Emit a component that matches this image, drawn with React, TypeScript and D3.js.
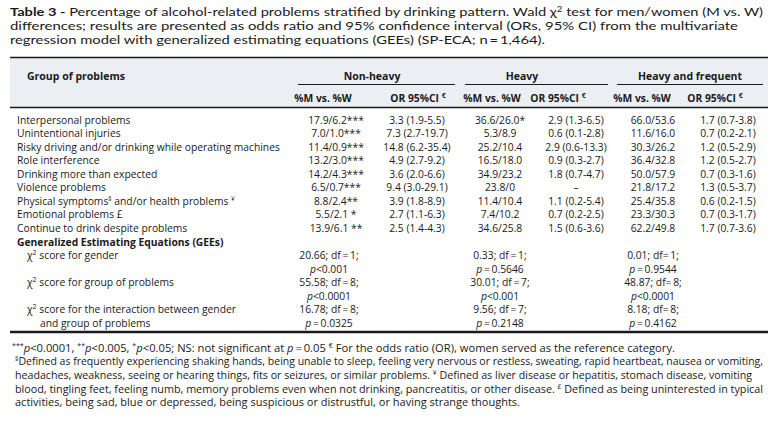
import React from "react";
import * as d3 from "d3";

// ---------- DATA ----------
const titleLines = [
  "**Table 3 -** Percentage of alcohol-related problems stratified by drinking pattern. Wald χ^2^ test for men/women (M vs. W)",
  "differences; results are presented as odds ratio and 95% confidence interval (ORs, 95% CI) from the multivariate",
  "regression model with generalized estimating equations (GEEs) (SP-ECA; n\u2009=\u20091,464).",
];

const groupHeaders = ["Non-heavy", "Heavy", "Heavy and frequent"];
const subHeaders = ["%M vs. %W", "OR 95%CI ^€^"];

const problems = [
  "Interpersonal problems",
  "Unintentional injuries",
  "Risky driving and/or drinking while operating machines",
  "Role interference",
  "Drinking more than expected",
  "Violence problems",
  "Physical symptoms^§^ and/or health problems ^¥^",
  "Emotional problems £",
  "Continue to drink despite problems",
];

const nonHeavyPct = ["17.9/6.2***", "7.0/1.0***", "11.4/0.9***", "13.2/3.0***", "14.2/4.3***", "6.5/0.7***", "8.8/2.4**", "5.5/2.1 *", "13.9/6.1 **"];
const nonHeavyOR = ["3.3 (1.9-5.5)", "7.3 (2.7-19.7)", "14.8 (6.2-35.4)", "4.9 (2.7-9.2)", "3.6 (2.0-6.6)", "9.4 (3.0-29.1)", "3.9 (1.8-8.9)", "2.7 (1.1-6.3)", "2.5 (1.4-4.3)"];
const heavyPct = ["36.6/26.0*", "5.3/8.9", "25.2/10.4", "16.5/18.0", "34.9/23.2", "23.8/0", "11.4/10.4", "7.4/10.2", "34.6/25.8"];
const heavyOR = ["2.9 (1.3-6.5)", "0.6 (0.1-2.8)", "2.9 (0.6-13.3)", "0.9 (0.3-2.7)", "1.8 (0.7-4.7)", "–", "1.1 (0.2-5.4)", "0.7 (0.2-2.5)", "1.5 (0.6-3.6)"];
const freqPct = ["66.0/53.6", "11.6/16.0", "30.3/26.2", "36.4/32.8", "50.0/57.9", "21.8/17.2", "25.4/35.8", "23.3/30.3", "62.2/49.8"];
const freqOR = ["1.7 (0.7-3.8)", "0.7 (0.2-2.1)", "1.2 (0.5-2.9)", "1.2 (0.5-2.7)", "0.7 (0.3-1.6)", "1.3 (0.5-3.7)", "0.6 (0.2-1.5)", "0.7 (0.3-1.7)", "1.7 (0.7-3.6)"];

const geeTitle = "Generalized Estimating Equations (GEEs)";
const geeLabels = [
  ["χ^2^ score for gender"],
  ["χ^2^ score for group of problems"],
  ["χ^2^ score for the interaction between gender", "and group of problems"],
];
const geeNonHeavy = [["20.66; df\u2009=\u20091;", "~p~<0.001"], ["55.58; df\u2009=\u20098;", "~p~<0.0001"], ["16.78; df\u2009=\u20098;", "~p~\u2009=\u20090.0325"]];
const geeHeavy = [["0.33; df\u2009=\u20091;", "~p~\u2009=\u20090.5646"], ["30.01; df\u2009=\u20097;", "~p~<0.001"], ["9.56; df\u2009=\u20097;", "~p~\u2009=\u20090.2148"]];
const geeFreq = [["0.01; df=\u20091;", "~p~\u2009=\u20090.9544"], ["48.87; df=\u20098;", "~p~<0.0001"], ["8.18; df=\u20098;", "~p~\u2009=\u20090.4162"]];

const footnotes = [
  "^***^~p~<0.0001, ^**^~p~<0.005, ^*^~p~<0.05; NS: not significant at ~p~\u2009=\u20090.05 ^€^ For the odds ratio (OR), women served as the reference category.",
  "^§^Defined as frequently experiencing shaking hands, being unable to sleep, feeling very nervous or restless, sweating, rapid heartbeat, nausea or vomiting,",
  "headaches, weakness, seeing or hearing things, fits or seizures, or similar problems. ^¥^ Defined as liver disease or hepatitis, stomach disease, vomiting",
  "blood, tingling feet, feeling numb, memory problems even when not drinking, pancreatitis, or other disease. ^£^ Defined as being uninterested in typical",
  "activities, being sad, blue or depressed, being suspicious or distrustful, or having strange thoughts.",
];

// ---------- LAYOUT ----------
const FONT = "'Open Sans', 'Noto Sans', sans-serif";
const TITLE_FONT = "Lato, 'Open Sans', sans-serif";
const INK = "#1a1a1a";
const titleX = [10, 10, 10];
const titleLen = [753, 728, 535];
const footX = [12, 15, 15, 15, 15];
const footLen = [663, 748, 737, 748, 505];

function rich(str: string, supSize: number) {
  const parts = str.split(/(\*\*.+?\*\*|\^.+?\^|~.+?~)/).filter((s) => s.length > 0);
  let shift = 0;
  return parts.map((p, i) => {
    let text = p;
    let weight: any = undefined;
    let style: any = undefined;
    let sup = false;
    if (p.startsWith("**") && p.endsWith("**") && p.length > 4) {
      text = p.slice(2, -2);
      weight = "bold";
    } else if (p.startsWith("^") && p.endsWith("^") && p.length > 2) {
      text = p.slice(1, -1);
      sup = true;
    } else if (p.startsWith("~") && p.endsWith("~") && p.length > 2) {
      text = p.slice(1, -1);
      style = "italic";
    }
    const target = sup ? -4 : 0;
    const dy = target - shift;
    shift = target;
    return (
      <tspan key={i} dy={dy || undefined} fontWeight={weight} fontStyle={style} fontSize={sup ? supSize : undefined}>
        {text}
      </tspan>
    );
  });
}

export default function App() {
  const W = 784;
  const H = 430;
  const left = 10;
  const right = 768;

  // line index -> y (center)
  const yLine = d3.scaleLinear().domain([0, 15]).range([120, 323.3]);
  const base = 3.6;

  const dataCols = ["nhPct", "nhOR", "hPct", "hOR", "fPct", "fOR"];
  const xData = d3.scaleOrdinal<string, number>().domain(dataCols).range([336, 417, 500, 576, 653, 728]);
  const xSub = d3.scaleOrdinal<string, number>().domain(dataCols).range([323, 418, 492, 558, 642, 715]);
  const groupX = [372, 522, 690];
  const groupRule = [[298, 455], [465, 608], [617, 763]];
  const colValues = [nonHeavyPct, nonHeavyOR, heavyPct, heavyOR, freqPct, freqOR];
  const geeCols = [
    { vals: geeNonHeavy, x: 329 },
    { vals: geeHeavy, x: 500 },
    { vals: geeFreq, x: 653 },
  ];

  const bodySize = 10.3;

  return (
    <svg width={W} height={H} style={{ position: "absolute", left: 0, top: 0, background: "#fff" }} fontFamily={FONT} fill={INK}>
      <rect x={0} y={0} width={W} height={H} fill="#fff" />
      {/* title */}
      {titleLines.map((t, i) => (
        <text key={i} x={titleX[i]} y={16 + i * 14} fontSize={12.2} fontFamily={TITLE_FONT} textLength={titleLen[i]} lengthAdjust="spacingAndGlyphs">
          {rich(t, 8)}
        </text>
      ))}

      {/* header band */}
      <rect x={left} y={57.5} width={right - left} height={50} fill="#ebeff4" />
      <line x1={left} x2={right} y1={57.5} y2={57.5} stroke={INK} strokeWidth={1.5} />
      <line x1={left} x2={right} y1={107.5} y2={107.5} stroke={INK} strokeWidth={1.6} />
      <text x={27} y={76 + base} fontSize={10.5} fontWeight="bold">Group of problems</text>
      {groupHeaders.map((g, i) => (
        <g key={g}>
          <text x={groupX[i]} y={76 + base} fontSize={10.5} fontWeight="bold" textAnchor="middle">{g}</text>
          <line x1={groupRule[i][0]} x2={groupRule[i][1]} y1={84.5} y2={84.5} stroke={INK} strokeWidth={1} />
        </g>
      ))}
      {dataCols.map((c, i) => (
        <text key={c} x={xSub(c)} y={98 + base} fontSize={10.3} fontWeight="bold" textAnchor="middle">
          {rich(subHeaders[i % 2], 7)}
        </text>
      ))}

      {/* body rows */}
      {problems.map((p, r) => (
        <text key={p} x={17} y={yLine(r) + base} fontSize={bodySize}>
          {rich(p, 6.5)}
        </text>
      ))}
      {colValues.map((vals, ci) =>
        vals.map((v, r) => (
          <text key={ci + "-" + r} x={xData(dataCols[ci])} y={yLine(r) + base} fontSize={bodySize} textAnchor="middle">
            {v}
          </text>
        ))
      )}

      {/* GEE */}
      <text x={17} y={yLine(9) + base} fontSize={bodySize} fontWeight="bold">{geeTitle}</text>
      {geeLabels.map((lines, k) =>
        lines.map((l, j) => (
          <text key={k + "-" + j} x={j === 0 ? 27 : 40} y={yLine(10 + 2 * k + j) + base} fontSize={bodySize}>
            {rich(l, 7)}
          </text>
        ))
      )}
      {geeCols.map((col, ci) =>
        col.vals.map((pair, k) =>
          pair.map((s, j) => (
            <text key={ci + "-" + k + "-" + j} x={col.x} y={yLine(10 + 2 * k + j) + base} fontSize={bodySize} textAnchor="middle">
              {rich(s, 7)}
            </text>
          ))
        )
      )}
      <line x1={left} x2={right} y1={332} y2={332} stroke={INK} strokeWidth={2.6} />

      {/* footnotes */}
      {footnotes.map((f, i) => (
        <text key={i} x={footX[i]} y={351.5 + i * 13.7} fontSize={10.3} textLength={footLen[i]} lengthAdjust="spacingAndGlyphs">
          {rich(f, 6.5)}
        </text>
      ))}
    </svg>
  );
}
